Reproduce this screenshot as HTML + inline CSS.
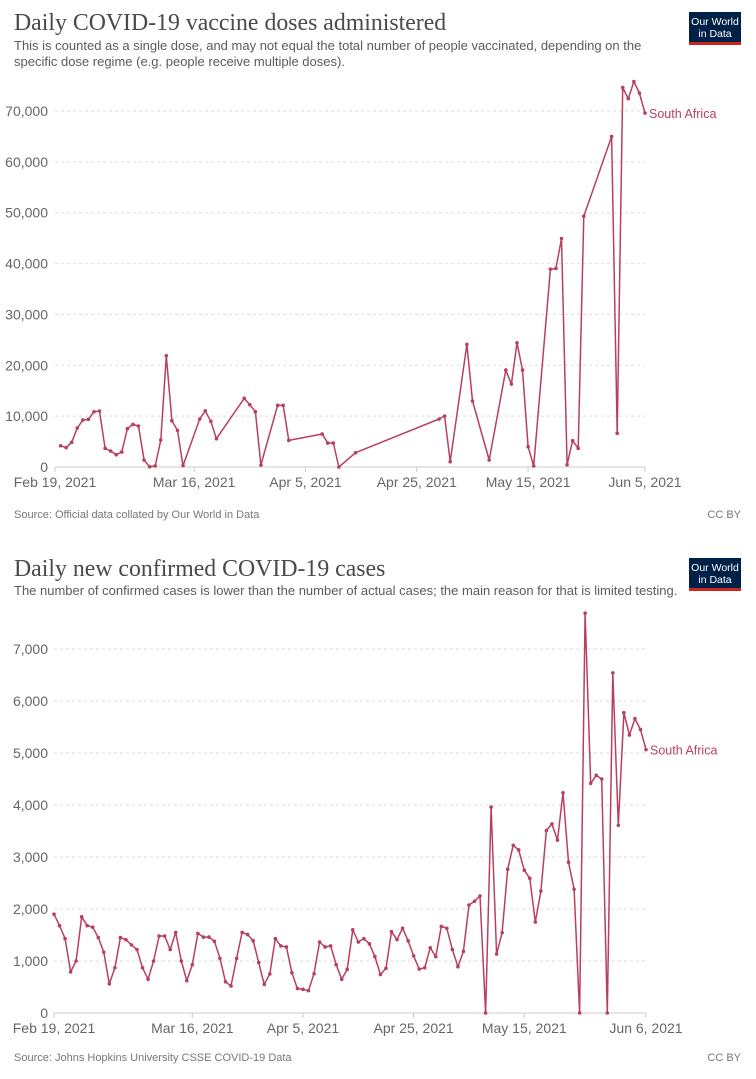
<!DOCTYPE html>
<html><head><meta charset="utf-8"><style>
html,body{margin:0;padding:0;background:#fff;}
svg{display:block;font-family:"Liberation Sans",sans-serif;}
</style></head><body>
<svg id="s" width="756" height="1079" viewBox="0 0 756 1079">
<text x="14" y="30" font-family="Liberation Serif,serif" font-size="23.8" fill="#4a4a4a">Daily COVID-19 vaccine doses administered</text>
<text x="14" y="50" font-size="13" fill="#5b5b5b">This is counted as a single dose, and may not equal the total number of people vaccinated, depending on the</text>
<text x="14" y="66" font-size="13" fill="#5b5b5b">specific dose regime (e.g. people receive multiple doses).</text>
<g><rect x="689" y="12" width="52" height="33" fill="#002147"/><rect x="689" y="42" width="52" height="3" fill="#ce261e"/>
<text x="715" y="25" font-size="10.5" fill="#fff" text-anchor="middle">Our World</text><text x="715" y="37" font-size="10.5" fill="#fff" text-anchor="middle">in Data</text></g>
<text x="14" y="518" font-size="11" fill="#777">Source: Official data collated by Our World in Data</text>
<text x="741" y="518" font-size="11" fill="#777" text-anchor="end">CC BY</text>

<text x="14" y="576" font-family="Liberation Serif,serif" font-size="23.8" fill="#4a4a4a">Daily new confirmed COVID-19 cases</text>
<text x="14" y="595" font-size="13" fill="#5b5b5b">The number of confirmed cases is lower than the number of actual cases; the main reason for that is limited testing.</text>
<g><rect x="689" y="558" width="52" height="33" fill="#002147"/><rect x="689" y="588" width="52" height="3" fill="#ce261e"/>
<text x="715" y="571" font-size="10.5" fill="#fff" text-anchor="middle">Our World</text><text x="715" y="583" font-size="10.5" fill="#fff" text-anchor="middle">in Data</text></g>
<text x="14" y="1061" font-size="11" fill="#777">Source: Johns Hopkins University CSSE COVID-19 Data</text>
<text x="741" y="1061" font-size="11" fill="#777" text-anchor="end">CC BY</text>
</svg>
<script>
// Chart 1 data: day offset from Feb 19, 2021 and doses
const vacDays=[1,2,3,4,5,6,7,8,9,10,11,12,13,14,15,16,17,18,19,20,21,22,23,26,27,28,29,34,35,36,37,40,41,42,48,49,50,51,54,69,70,71,74,75,78,81,82,83,84,85,86,89,90,91,92,93,94,95,100,101,102,103,104,105,106];
const vacValues=[4180,3800,4850,7660,9230,9370,10870,11000,3670,3140,2420,2950,7530,8380,8050,1370,60,200,5300,21870,9100,7200,260,9430,11060,8980,5560,13500,12240,10870,390,12120,12120,5240,6480,4710,4710,0,2810,9430,10020,1040,24100,12970,1380,19060,16310,24420,19060,3990,200,38900,39040,44930,450,5170,3670,49310,64970,6620,74600,72440,75780,73540,69600];
const vacYTicks=[0,10000,20000,30000,40000,50000,60000,70000];
const vacXTickDays=[0,25,45,65,85,106];
const vacXTickLabels=["Feb 19, 2021","Mar 16, 2021","Apr 5, 2021","Apr 25, 2021","May 15, 2021","Jun 5, 2021"];
// Chart 2 data: daily cases from Feb 19, 2021
const caseValues=[1900,1680,1430,790,1000,1850,1680,1650,1450,1170,560,870,1450,1410,1310,1220,870,650,1000,1480,1480,1220,1550,1000,620,930,1530,1460,1460,1380,1050,600,520,1050,1550,1510,1390,970,550,750,1430,1290,1270,775,470,455,430,755,1365,1270,1290,930,650,840,1600,1365,1430,1330,1085,740,860,1565,1410,1630,1390,1100,845,870,1255,1085,1665,1630,1220,890,1185,2075,2150,2250,0,3960,1135,1545,2765,3225,3135,2745,2590,1750,2345,3510,3635,3325,4235,2900,2380,0,7690,4415,4570,4500,0,6540,3610,5775,5345,5660,5450,5065];
const caseYTicks=[0,1000,2000,3000,4000,5000,6000,7000];
const caseXTickDays=[0,25,45,65,85,107];
const caseXTickLabels=["Feb 19, 2021","Mar 16, 2021","Apr 5, 2021","Apr 25, 2021","May 15, 2021","Jun 6, 2021"];

const NS="http://www.w3.org/2000/svg";
const svg=document.getElementById('s');
function mk(t,a){const e=document.createElementNS(NS,t);for(const k in a)e.setAttribute(k,a[k]);svg.appendChild(e);return e;}
function fmt(v){return v.toLocaleString('en-US');}

function chart(p,days,vals,yTicks,xDays,xLabels,pfx){
  const xs=d=>p.x0+(d/p.span)*(p.x1-p.x0);
  const ys=v=>p.y0-(v/p.vmax)*(p.y0-p.ytop);
  yTicks.forEach(t=>{
    if(t>0){const g=mk('line',{x1:p.x0,x2:p.x1,y1:ys(t),y2:ys(t),stroke:'#ddd','stroke-dasharray':'3,3'});
    
    }
    const l=mk('text',{x:48,y:ys(t)+5,'font-size':14,fill:'#666','text-anchor':'end'});l.textContent=fmt(t);
    
    
  });
  const ax=mk('line',{x1:p.x0,x2:p.x1,y1:p.y0,y2:p.y0,stroke:'#ccc'});
  
  
  xDays.forEach((d,i)=>{
    const tk=mk('line',{x1:xs(d),x2:xs(d),y1:p.y0,y2:p.y0+5,stroke:'#ccc'});
    
    
    const l=mk('text',{x:xs(d),y:p.y0+20,'font-size':14,fill:'#666','text-anchor':'middle'});l.textContent=xLabels[i];
    
    
  });
  const pts=vals.map((v,i)=>[xs(days[i]),ys(v)]);
  const pl=mk('polyline',{points:pts.map(q=>q[0].toFixed(1)+','+q[1].toFixed(1)).join(' '),fill:'none',stroke:'#b8405e','stroke-width':1.5,'stroke-linejoin':'round'});
  
  
  pts.forEach(q=>{const c=mk('circle',{cx:q[0],cy:q[1],r:1.8,fill:'#b8405e'});
    
    });
  const last=pts[pts.length-1];
  const lb=mk('text',{x:last[0]+4,y:last[1]+5,'font-size':12.5,fill:'#b8405e'});lb.textContent='South Africa';
  
  
}
chart({x0:55,x1:645,span:106,y0:467,ytop:111,vmax:70000},vacDays,vacValues,vacYTicks,vacXTickDays,vacXTickLabels,'vaccine');
chart({x0:54,x1:646,span:107,y0:1013,ytop:649,vmax:7000},caseValues.map((v,i)=>i),caseValues,caseYTicks,caseXTickDays,caseXTickLabels,'cases');
</script>
</body></html>
